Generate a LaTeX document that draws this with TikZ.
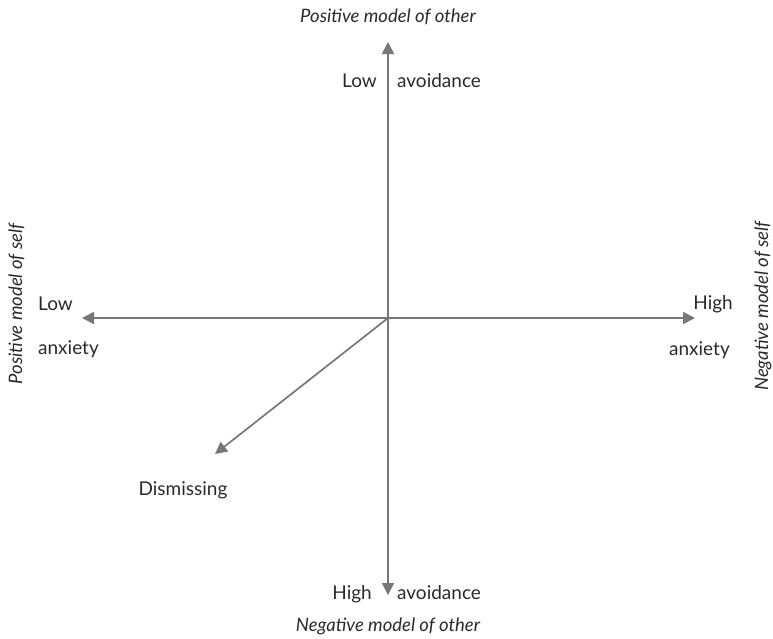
\documentclass[tikz,border=0pt]{standalone}
\usepackage{fontspec}
\setmainfont{Lato}
\usetikzlibrary{arrows.meta}
\definecolor{axis}{HTML}{777777}
\definecolor{txt}{HTML}{2A2A2A}
\begin{document}
\begin{tikzpicture}[x=1pt,y=-1pt,
  ax/.style={draw=axis,line width=1.7pt,-{Triangle[length=12pt,width=12pt]}},
  lbl/.style={text=txt,font=\fontsize{19}{22}\selectfont,inner sep=0pt,text height=14pt,text depth=4pt},
  ttl/.style={text=txt,font=\fontsize{18.5}{22}\selectfont\itshape,inner sep=0pt,text height=14pt,text depth=4pt}]
\useasboundingbox (0,0) rectangle (773,638);
\coordinate (c) at (388,318);
\coordinate (t) at (388,42);
\coordinate (b) at (388,595);
\coordinate (l) at (82,318);
\coordinate (r) at (695,318);
\coordinate (d) at (215,454);
\draw[ax] (c) -- (t);
\draw[ax] (c) -- (b);
\draw[ax] (c) -- (l);
\draw[ax] (c) -- (r);
\draw[ax] (c) -- (d);
\node[ttl] (pto) at (388,17) {Positive model of other};
\node[ttl] (nto) at (388,626) {Negative model of other};
\node[ttl,rotate=90] (pts) at (17,304) {Positive model of self};
\node[ttl,rotate=90] (nts) at (763,306) {Negative model of self};
\node[lbl,anchor=east] (lowa) at (377,82) {Low};
\node[lbl,anchor=west] (avt) at (397,82) {avoidance};
\node[lbl,anchor=east] (higha) at (372,594) {High};
\node[lbl,anchor=west] (avb) at (397,594) {avoidance};
\node[lbl,anchor=west] (lowx) at (38,305) {Low};
\node[lbl,anchor=west] (axl) at (38,349) {anxiety};
\node[lbl,anchor=east] (highx) at (733,304) {High};
\node[lbl,anchor=east] (axr) at (730,350) {anxiety};
\node[lbl] (dis) at (183,490) {Dismissing};
\end{tikzpicture}
\end{document}
